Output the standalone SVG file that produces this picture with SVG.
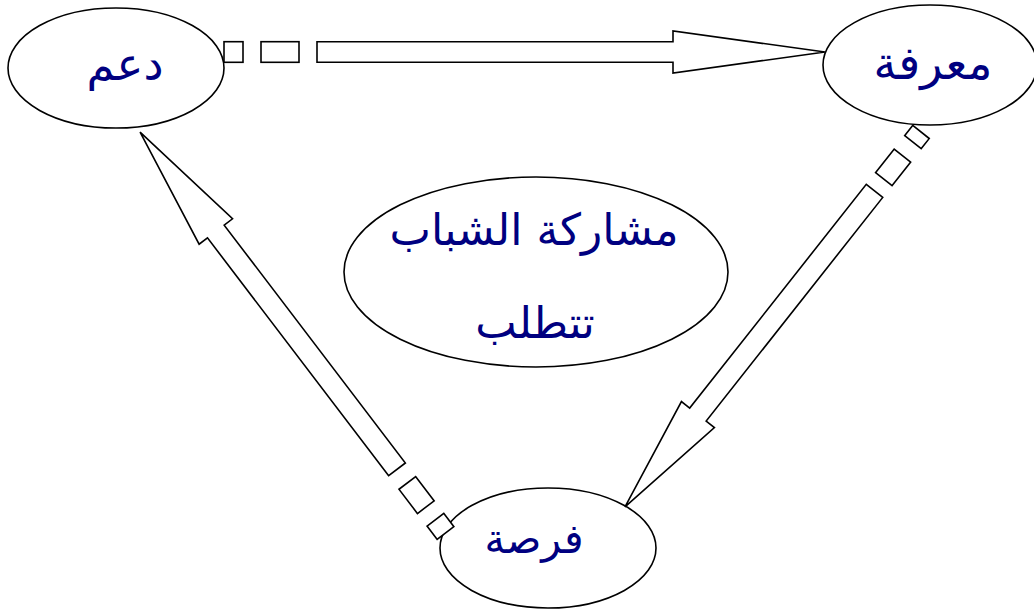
<svg xmlns="http://www.w3.org/2000/svg" width="1034" height="610" viewBox="0 0 1034 610">
<style>
.node{fill:#fff;stroke:#000;stroke-width:1.6}
.arrow{fill:#fff;stroke:#000;stroke-width:1.6;stroke-linejoin:miter}
.lbl{font-family:"DejaVu Sans",sans-serif;fill:#000080;text-anchor:middle}
</style>
<rect width="1034" height="610" fill="#fff"/>
<g id="node-daam">
<ellipse class="node" cx="116" cy="68" rx="108" ry="60"/>
<text class="lbl" x="125" y="80" font-size="45">دعم</text>
</g>
<g id="node-maarifa">
<ellipse class="node" cx="930" cy="65" rx="107" ry="60"/>
<text class="lbl" x="933" y="79" font-size="46">معرفة</text>
</g>
<g id="node-center">
<ellipse class="node" cx="536" cy="272" rx="192" ry="95"/>
<text class="lbl" x="534" y="245" font-size="44">مشاركة الشباب</text>
<text class="lbl" x="535" y="338" font-size="44">تتطلب</text>
</g>
<g id="node-forsa">
<ellipse class="node" cx="548" cy="548" rx="108" ry="60"/>
<text class="lbl" x="534" y="553" font-size="41">فرصة</text>
</g>
<g id="connectors">
<g transform="translate(224,52)">
<rect class="arrow" x="0" y="-10.3" width="19" height="20.6"/>
<rect class="arrow" x="37" y="-10.3" width="38" height="20.6"/>
<path class="arrow" d="M93,-10.3 H449 V-21 L601,0 L449,21 V10.3 H93 Z"/>
</g>
<g transform="translate(921,132) rotate(128.29)">
<rect class="arrow" x="0" y="-10.5" width="13" height="21"/>
<rect class="arrow" x="30" y="-10.5" width="30" height="21"/>
<path class="arrow" d="M75,-10.5 H360 V-21 L477.7,0 L360,21 V10.5 H75 Z"/>
</g>
<g transform="translate(445.5,533) rotate(-127.3)">
<rect class="arrow" x="0" y="-10.5" width="16.6" height="21"/>
<rect class="arrow" x="32.5" y="-10.5" width="30.5" height="21"/>
<path class="arrow" d="M80,-10.5 H379 V-21 L504,0 L379,21 V10.5 H80 Z"/>
</g>
</g>
</svg>
